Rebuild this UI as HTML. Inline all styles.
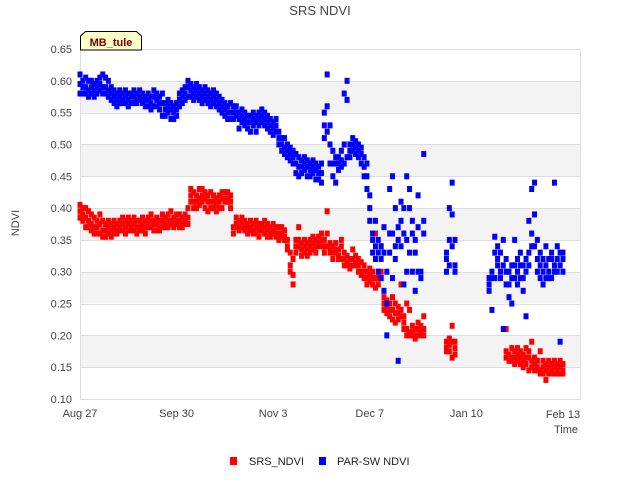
<!DOCTYPE html>
<html><head><meta charset="utf-8"><style>
body{margin:0;background:#fff;}
svg{display:block;font-family:"Liberation Sans",sans-serif;}
</style></head><body>
<svg id="chart" width="640" height="480" viewBox="0 0 640 480">
<rect x="0" y="0" width="640" height="480" fill="#fff"/>
<text x="320" y="15" text-anchor="middle" font-size="13" fill="#444">SRS NDVI</text>
<g id="bands"></g>
<g id="grid"></g>
<rect x="80.5" y="49.5" width="500" height="350" fill="none" stroke="#ddd"/>
<g id="yticks"></g>
<g id="xticks"></g>
<g id="red"></g>
<g id="blue"></g>
<text x="19" y="223" font-size="11" fill="#444" text-anchor="middle" transform="rotate(-90 19 223)">NDVI</text>
<text x="578" y="433" font-size="11" fill="#444" text-anchor="end">Time</text>
<g>
<path d="M80.5,50 L80.5,36 L85.5,31.5 L136.5,31.5 L141.5,36 L141.5,50 Z" fill="#ffffc8" stroke="#000" stroke-width="1"/>
<text x="111" y="46" text-anchor="middle" font-size="11" font-weight="bold" fill="#800000">MB_tule</text>
</g>
<g>
<rect x="230" y="457" width="7" height="8" fill="#f00"/>
<text x="249" y="465" font-size="11" fill="#222">SRS_NDVI</text>
<rect x="319" y="457" width="7" height="8" fill="#00f"/>
<text x="337" y="465" font-size="11" fill="#222">PAR-SW NDVI</text>
</g>
</svg>
<script>
const yTicks=[0.10,0.15,0.20,0.25,0.30,0.35,0.40,0.45,0.50,0.55,0.60,0.65];
const xTickLabels=["Aug 27","Sep 30","Nov 3","Dec 7","Jan 10","Feb 13"];
const xTickDays=[0,34,68,102,136,170];
const redDays=[0,1,2,3,4,5,6,7,8,9,10,11,12,13,14,15,16,17,18,19,20,21,22,23,24,25,26,27,28,29,30,31,32,33,34,35,36,37,38,
39,40,41,42,43,44,45,46,47,48,49,50,51,52,53,
54,55,56,57,58,59,60,61,62,63,64,65,66,67,68,69,70,71,72,
73,74,75,76,77,78,79,80,81,82,83,84,85,86,87,88,89,90,
91,92,93,94,95,96,97,98,99,100,101,102,103,104,105,106,
107,108,109,110,111,112,113,114,115,116,117,118,119,120,121,
129,130,131,132,150,151,152,153,154,155,156,157,158,159,160,161,162,163,164,165,166,167,168,169,170];
const redVals=[[.405,.395,.385],[.40,.39,.38],[.40,.385,.37],[.395,.38,.37],[.39,.375,.365],[.385,.37,.36],[.38,.37,.36],[.39,.375,.36],[.38,.365,.355],[.375,.365,.355],[.38,.37,.36],[.375,.365,.355],[.38,.37,.36],[.375,.365,.36],[.38,.37,.365],[.385,.375,.365],[.38,.37,.36],[.385,.375,.365],[.38,.37,.365],[.385,.375,.365],[.38,.37,.36],[.38,.37,.365],[.385,.375,.365],[.38,.37,.36],[.385,.375,.37],[.39,.38,.37],[.38,.375,.365],[.385,.375,.365],[.38,.37,.365],[.39,.38,.37],[.385,.375,.37],[.39,.38,.37],[.395,.38,.375],[.385,.375,.37],[.39,.38,.375],[.39,.38,.37],[.385,.375,.37],[.39,.38,.375],[.40,.385,.375],
[.43,.42,.41],[.425,.41,.40],[.42,.41,.40],[.43,.415,.405],[.43,.42,.41],[.425,.415,.40],[.42,.41,.395],[.425,.41,.40],[.42,.41,.40],[.415,.405,.395],[.42,.41,.40],[.425,.415,.40],[.425,.415,.41],[.425,.415,.41],[.42,.41,.40],
[.37,.36],[.385,.375,.37],[.38,.37,.365],[.385,.375,.37],[.38,.37,.365],[.375,.37,.36],[.38,.37,.365],[.375,.365,.36],[.38,.37,.36],[.375,.365,.355],[.375,.37,.365],[.38,.37,.36],[.375,.365,.355],[.37,.36,.355],[.375,.365,.36],[.37,.36,.355],[.37,.36,.35],[.37,.36,.355],[.365,.355,.35],
[.35,.34,.335],[.33,.31,.30],[.32,.295,.28],[.35,.34,.33],[.37,.35,.34],[.345,.335,.325],[.35,.34,.33],[.345,.335,.325],[.35,.34,.33],[.355,.345,.335],[.35,.34,.33],[.355,.345,.34],[.36,.35,.34],[.35,.34,.33],[.395,.36,.34],[.345,.335,.33],[.34,.33,.32],[.345,.335,.33],
[.335,.325,.32],[.35,.34,.32],[.33,.32,.31],[.325,.315,.31],[.32,.31,.305],[.335,.32,.31],[.325,.315,.31],[.32,.31,.30],[.315,.30,.295],[.31,.30,.29],[.30,.29,.28],[.305,.295,.285],[.30,.29,.28],[.36,.29,.275],[.30,.29,.28],[.34,.30,.29],
[.26,.25,.24],[.255,.245,.235],[.25,.24,.23],[.26,.24,.225],[.25,.235,.22],[.245,.235,.225],[.28,.24,.23],[.23,.22,.21],[.25,.21,.20],[.24,.205,.20],[.215,.205,.20],[.21,.20,.195],[.22,.21,.20],[.215,.205,.20],[.23,.21,.20],
[.19,.18,.175],[.195,.185,.175],[.215,.19,.165],[.19,.18,.17],
[.21,.175,.165],[.17,.16],[.18,.165,.16],[.175,.165,.155],[.18,.17,.16],[.175,.165,.155],[.17,.16,.15],[.18,.165,.155],[.175,.165,.145],[.19,.16,.15],[.165,.155,.145],[.16,.15,.145],[.175,.145,.14],[.16,.15,.14],[.155,.145,.13],[.16,.15,.14],[.155,.145,.14],[.16,.15,.14],[.155,.145,.14],[.16,.15,.14],[.155,.145,.14]];
const blueDays=[0,1,2,3,4,5,6,7,8,9,10,11,12,13,14,15,16,17,18,19,20,21,22,23,24,25,26,27,28,29,30,31,32,33,34,35,36,37,38,39,40,41,42,43,44,45,46,47,48,49,50,51,52,53,54,55,56,57,58,59,60,61,62,63,64,65,66,67,68,69,70,71,72,73,74,75,76,77,78,79,80,81,82,83,84,85,
86,87,88,89,90,91,92,93,94,95,96,97,98,99,100,101,102,103,104,105,106,107,108,109,110,111,112,113,114,115,116,117,118,119,120,121,
129,130,131,132,144,145,146,147,148,149,150,151,152,153,154,155,156,157,158,159,160,161,162,163,164,165,166,167,168,169,170];
const blueVals=[[.61,.595,.58],[.60,.59,.58],[.605,.59,.58],[.60,.585,.575],[.60,.59,.58],[.595,.585,.575],[.60,.59,.58],[.605,.595,.585],[.61,.59,.58],[.605,.59,.58],[.60,.585,.575],[.59,.58,.57],[.585,.575,.565],[.58,.57,.56],[.585,.575,.565],[.58,.57,.565],[.585,.575,.565],[.58,.57,.56],[.58,.575,.565],[.585,.575,.565],[.58,.57,.565],[.585,.575,.57],[.58,.57,.565],[.575,.57,.56],[.58,.57,.56],[.575,.565,.555],[.585,.575,.56],[.58,.57,.56],[.575,.565,.555],[.58,.565,.545],[.565,.555,.545],[.57,.56,.55],[.565,.555,.54],[.56,.55,.54],[.565,.555,.545],[.58,.57,.56],[.585,.575,.565],[.59,.58,.57],[.60,.59,.575],[.595,.585,.575],[.59,.58,.57],[.595,.585,.575],[.59,.58,.57],[.585,.575,.565],[.59,.58,.57],[.585,.575,.565],[.58,.57,.56],[.585,.575,.565],[.58,.57,.56],[.575,.565,.555],[.57,.56,.55],[.565,.555,.545],[.56,.55,.54],[.565,.55,.54],[.56,.55,.54],[.56,.55,.545],[.55,.54,.525],[.555,.545,.535],[.55,.54,.53],[.545,.535,.525],[.545,.535,.52],[.55,.54,.53],[.545,.535,.52],[.55,.54,.53],[.555,.545,.535],[.55,.54,.53],[.545,.535,.525],[.54,.53,.52],[.535,.525,.515],[.54,.53,.52],[.52,.51,.50],[.51,.50,.49],[.51,.495,.485],[.50,.49,.48],[.495,.485,.475],[.49,.48,.47],[.485,.47,.455],[.48,.465,.45],[.475,.465,.455],[.48,.47,.46],[.475,.465,.45],[.47,.46,.45],[.475,.465,.455],[.47,.46,.445],[.465,.455,.445],[.47,.455,.44],
[.55,.53,.51],[.61,.56,.52],[.53,.50,.47],[.49,.47,.45],[.48,.47,.44],[.48,.47,.46],[.49,.475,.465],[.58,.50,.47],[.60,.57,.48],[.50,.49,.48],[.51,.50,.49],[.505,.495,.485],[.50,.49,.48],[.495,.485,.47],[.48,.465,.45],[.47,.45,.43],[.42,.40,.38],[.36,.35,.33],[.38,.34,.32],[.35,.33,.30],[.34,.32,.29],[.37,.33,.27],[.30,.25,.20],[.43,.36,.33],[.45,.36,.29],[.40,.34,.32],[.37,.35,.16],[.41,.38,.34],[.40,.36,.28],[.45,.35,.30],[.43,.40,.33],[.38,.36,.30],[.35,.33,.27],[.42,.37,.30],[.30,.29],[.485,.38,.36],
[.33,.32,.30],[.40,.35,.31],[.44,.39,.34],[.35,.31,.30],
[.29,.28,.27],[.30,.29,.24],[.355,.33,.29],[.34,.32,.31],[.33,.30,.29],[.35,.31,.21],[.32,.30,.28],[.30,.28,.26],[.31,.29,.25],[.35,.31,.29],[.32,.30,.28],[.33,.31,.29],[.31,.29,.27],[.32,.30,.23],[.38,.33,.31],[.43,.36,.34],[.44,.39,.34],[.35,.32,.30],[.33,.31,.29],[.32,.30,.28],[.34,.31,.29],[.32,.30,.29],[.33,.32,.29],[.44,.31,.30],[.34,.32,.30],[.33,.31,.19],[.33,.32,.30]];

const X0=80,X1=580,D0=0,D1=176,Y0=399,Y1=49,V0=0.10,V1=0.65;
function xs(d){return X0+(d-D0)/(D1-D0)*(X1-X0);}
function ys(v){return Y0-(v-V0)/(V1-V0)*(Y0-Y1);}
const NS="http://www.w3.org/2000/svg";
function mk(tag,attrs,parent){const e=document.createElementNS(NS,tag);for(const k in attrs)e.setAttribute(k,attrs[k]);parent.appendChild(e);return e;}
const bands=document.getElementById('bands'),grid=document.getElementById('grid'),yt=document.getElementById('yticks'),xt=document.getElementById('xticks');
for(let i=0;i<yTicks.length;i++){
  const v=yTicks[i];
  if(i<yTicks.length-1 && i%2===1){
    const b=mk('rect',{x:X0,y:ys(yTicks[i+1]),width:X1-X0,height:ys(v)-ys(yTicks[i+1]),fill:'#f3f3f3'},bands);
    
    
  }
  const l=mk('line',{x1:X0,x2:X1,y1:Math.round(ys(v))+0.5,y2:Math.round(ys(v))+0.5,stroke:'#ddd'},grid);
  
  
  const t=mk('text',{x:72,y:ys(v)+4,'text-anchor':'end','font-size':11,fill:'#444'},yt);
  t.textContent=v.toFixed(2);
  
  
}
for(let i=0;i<xTickLabels.length;i++){
  const t=mk('text',{x:xs(xTickDays[i]),y:i===5?418:417,'text-anchor':'middle','font-size':11,fill:'#444'},xt);
  t.textContent=xTickLabels[i];
  
  
}
function plot(days,vals,gid,color,name){
  const g=document.getElementById(gid);
  for(let i=0;i<days.length;i++){
    for(const v of vals[i]){
      const r=mk('rect',{x:xs(days[i])-2.5,y:ys(v)-3,width:5,height:6,fill:color},g);
      
      
    }
  }
}
plot(redDays,redVals,'red','#f00','srs-ndvi-point');
plot(blueDays,blueVals,'blue','#00f','par-sw-ndvi-point');
</script>
</body></html>
